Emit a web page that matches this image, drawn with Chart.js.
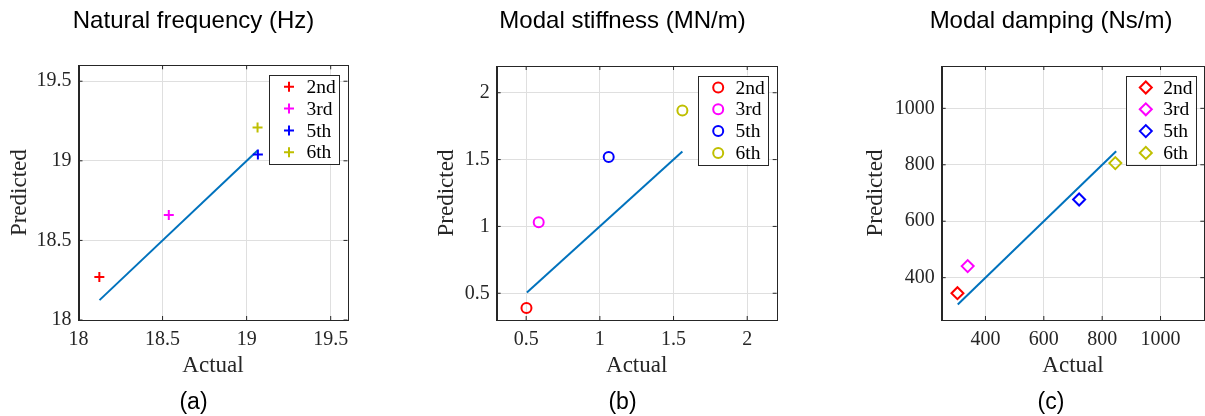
<!DOCTYPE html>
<html><head><meta charset="utf-8">
<script src="https://cdn.jsdelivr.net/npm/chart.js@4/dist/chart.umd.min.js"></script>
<style>
html,body{margin:0;padding:0;background:#fff;overflow:hidden;width:1205px;height:416px;position:relative;}
.cell{position:absolute;top:0;height:416px;}
</style></head><body>
<div class="cell" style="left:0px;width:387px"><canvas id="chartA"></canvas></div>
<div class="cell" style="left:420px;width:405px"><canvas id="chartB"></canvas></div>
<div class="cell" style="left:861px;width:380px"><canvas id="chartC"></canvas></div>
<script>
// ---- data ----
const modes = ['2nd', '3rd', '5th', '6th'];
const modeColors = ['#ff0000', '#ff00ff', '#0000ff', '#bfbf00'];

const freqActual    = [18.124, 18.537, 19.067, 19.065];
const freqPredicted = [18.27, 18.66, 19.04, 19.21];
const freqLine      = [18.125, 19.065];
const freqTicks     = [18, 18.5, 19, 19.5];
const freqRange     = [18, 19.6];

const stiffActual    = [0.502, 0.585, 1.06, 1.56];
const stiffPredicted = [0.39, 1.032, 1.52, 1.868];
const stiffLine      = [0.505, 1.56];
const stiffTicks     = [0.5, 1, 1.5, 2];
const stiffRange     = [0.3, 2.2];

const dampActual    = [304, 339, 721, 845];
const dampPredicted = [345, 441, 677, 806];
const dampLine      = [305, 848];
const dampTicks     = [400, 600, 800, 1000];
const dampRange     = [250, 1150];

const titles = ['Natural frequency (Hz)', 'Modal stiffness (MN/m)', 'Modal damping (Ns/m)'];
const tags = ['(a)', '(b)', '(c)'];

// ---- styling ----
const AXIS = '#262626';
const GRID = '#dfdfdf';
const SERIF = "'Liberation Serif', 'Times New Roman', serif";
const SANS = "'Liberation Sans', Arial, sans-serif";

const boxPlugin = {
  id: 'matlabBox',
  afterDraw(chart, args, opts) {
    const {ctx, chartArea: a, scales} = chart;
    ctx.save();
    ctx.strokeStyle = AXIS;
    ctx.lineWidth = 1;
    ctx.beginPath();
    const tl = 4;
    scales.x.ticks.forEach(t => {
      const p = scales.x.getPixelForValue(t.value);
      ctx.moveTo(p, a.bottom); ctx.lineTo(p, a.bottom - tl);
      ctx.moveTo(p, a.top); ctx.lineTo(p, a.top + tl);
    });
    scales.y.ticks.forEach(t => {
      const p = scales.y.getPixelForValue(t.value);
      ctx.moveTo(a.left, p); ctx.lineTo(a.left + tl, p);
      ctx.moveTo(a.right, p); ctx.lineTo(a.right - tl, p);
    });
    ctx.stroke();
    ctx.strokeRect(Math.round(a.left) + 0.5, Math.round(a.top) + 0.5,
                   Math.round(a.right) - Math.round(a.left), Math.round(a.bottom) - Math.round(a.top));
    // legend
    const L = opts;
    const bx = a.right - L.right - L.width, by = a.top + L.top;
    ctx.fillStyle = '#fff';
    ctx.fillRect(bx, by, L.width, L.height);
    ctx.strokeStyle = AXIS;
    ctx.strokeRect(Math.round(bx) + 0.5, Math.round(by) + 0.5, Math.round(L.width), Math.round(L.height));
    ctx.font = "19.5px " + SERIF;
    ctx.textBaseline = 'middle';
    ctx.textAlign = 'left';
    chart.data.datasets.forEach((ds, i) => {
      if (ds.isFit) return;
      const y = by + L.row0 + i * L.step;
      const x = bx + L.markerX;
      ctx.strokeStyle = ds.borderColor;
      ctx.fillStyle = 'rgba(0,0,0,0)';
      ctx.lineWidth = ds.pointBorderWidth;
      Chart.helpers.drawPoint(ctx, {pointStyle: ds.pointStyle, radius: ds.pointRadius, borderWidth: ds.pointBorderWidth, rotation: 0}, x, y);
      ctx.fillStyle = '#000';
      ctx.fillText(ds.label, bx + L.textX, y + 1);
    });
    ctx.restore();
  }
};

function fmt(v) { return String(+(+v).toFixed(3)); }

function build(id, s) {
  const datasets = modes.map((m, i) => ({
    label: m,
    data: [{x: s.actual[i], y: s.predicted[i]}],
    xAxisID: 'x', yAxisID: 'y',
    pointStyle: s.marker,
    pointRadius: s.radius,
    pointBorderWidth: 2,
    borderColor: modeColors[i],
    pointBorderColor: modeColors[i],
    backgroundColor: 'rgba(0,0,0,0)',
    pointBackgroundColor: 'rgba(0,0,0,0)',
    showLine: false
  }));
  datasets.push({
    label: 'fit', isFit: true,
    data: s.line.map(v => ({x: v, y: v})),
    xAxisID: 'x', yAxisID: 'y',
    showLine: true, borderColor: '#0072BD', borderWidth: 2,
    pointRadius: 0, fill: false
  });
  const tickFont = {family: SERIF, size: 20};
  const labFont = {family: SERIF, size: 23};
  new Chart(document.getElementById(id), {
    type: 'scatter',
    data: {datasets},
    options: {
      responsive: true, maintainAspectRatio: false, animation: false,
      layout: {padding: 0},
      plugins: {
        legend: {display: false},
        tooltip: {enabled: false},
        title: {display: true, text: s.title, color: '#000',
          font: {family: SANS, size: 24, weight: 'normal'},
          padding: {top: 6.6, bottom: s.top - 6.6 - 28.8}},
        subtitle: {display: true, position: 'bottom', text: s.tag, color: '#000',
          font: {family: SANS, size: 23, weight: 'normal'},
          padding: {top: 0, bottom: 0}},
        matlabBox: s.legend
      },
      scales: {
        x: {type: 'linear', position: 'bottom', min: s.range[0], max: s.range[1],
          afterBuildTicks: sc => { sc.ticks = s.ticks.map(v => ({value: v})); },
          afterFit: sc => { sc.height = 416 - 27.6 - 320; },
          ticks: {font: tickFont, color: AXIS, padding: 8, callback: v => fmt(v)},
          grid: {color: GRID, drawTicks: false},
          border: {color: AXIS},
          title: {display: true, text: 'Actual', color: AXIS, font: labFont, padding: {top: 0, bottom: 8.6}}},
        y: {type: 'linear', position: 'left', min: s.range[0], max: s.range[1],
          afterBuildTicks: sc => { sc.ticks = s.ticks.map(v => ({value: v})); },
          afterFit: sc => { sc.width = s.yW; },
          ticks: {font: tickFont, color: AXIS, padding: 7, callback: v => fmt(v)},
          grid: {color: GRID, drawTicks: false},
          border: {color: AXIS},
          title: {display: true, text: 'Predicted', color: AXIS, font: labFont, padding: {top: s.yTitlePad, bottom: 0}}},
        r: {type: 'linear', position: 'right', display: true,
          ticks: {display: false}, grid: {display: false, drawTicks: false}, border: {display: false},
          afterFit: sc => { sc.width = s.rW; }}
      }
    },
    plugins: [boxPlugin]
  });
}

const legendBase = {right: 8.5, top: 9.5, width: 70, height: 89, row0: 12, step: 21.8, markerX: 20, textX: 37.4};

build('chartA', {title: titles[0], tag: tags[0], actual: freqActual, predicted: freqPredicted,
  line: freqLine, ticks: freqTicks, range: freqRange, marker: 'cross', radius: 5,
  top: 65.3, yW: 78.5, rW: 387 - 347.5, yTitlePad: 5.7, legend: legendBase});
build('chartB', {title: titles[1], tag: tags[1], actual: stiffActual, predicted: stiffPredicted,
  line: stiffLine, ticks: stiffTicks, range: stiffRange, marker: 'circle', radius: 5,
  top: 66, yW: 76.7, rW: 405 - 356.7, yTitlePad: 13.2, legend: legendBase});
build('chartC', {title: titles[2], tag: tags[2], actual: dampActual, predicted: dampPredicted,
  line: dampLine, ticks: dampTicks, range: dampRange, marker: 'rectRot', radius: 6,
  top: 66, yW: 80.7, rW: 380 - 343.3, yTitlePad: 1.2, legend: legendBase});
</script>
</body></html>
